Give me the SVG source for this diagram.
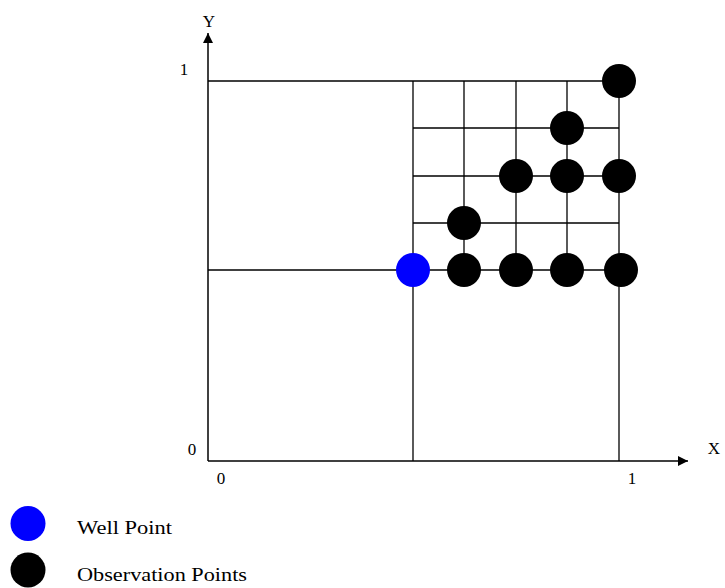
<svg xmlns="http://www.w3.org/2000/svg" width="725" height="588" viewBox="0 0 725 588">
<style>
.ln{stroke:#000;stroke-width:1.3;fill:none}
.ax{stroke:#000;stroke-width:1.5;fill:none}
.t{font-family:"Liberation Serif","Times New Roman",serif;font-size:17px;fill:#000}
.lg{font-family:"Liberation Serif","Times New Roman",serif;font-size:18px;fill:#000}
.obs{fill:#000}
.well{fill:#0000ff}
</style>
<defs>
<marker id="ah" viewBox="0 0 10 10" refX="10" refY="5" markerWidth="10" markerHeight="10" markerUnits="userSpaceOnUse" orient="auto">
<path d="M0,0 L10,5 L0,10 z" fill="#000"/>
</marker>
</defs>
<g id="connectors">
<line class="ax" x1="208" y1="461" x2="208" y2="33" marker-end="url(#ah)"/>
<line class="ax" x1="208" y1="461" x2="688" y2="461" marker-end="url(#ah)"/>
<line class="ln" x1="208" y1="81" x2="619" y2="81"/>
<line class="ln" x1="208" y1="270" x2="619" y2="270"/>
<line class="ln" x1="413" y1="128" x2="619" y2="128"/>
<line class="ln" x1="413" y1="176" x2="619" y2="176"/>
<line class="ln" x1="413" y1="223" x2="619" y2="223"/>
<line class="ln" x1="413" y1="81" x2="413" y2="461"/>
<line class="ln" x1="619" y1="81" x2="619" y2="461"/>
<line class="ln" x1="464" y1="81" x2="464" y2="270"/>
<line class="ln" x1="516" y1="81" x2="516" y2="270"/>
<line class="ln" x1="567" y1="81" x2="567" y2="270"/>
</g>
<g id="axis-labels">
<text class="t" x="209" y="27" text-anchor="middle">Y</text>
<text class="t" x="184" y="75" text-anchor="middle">1</text>
<text class="t" x="192" y="455" text-anchor="middle">0</text>
<text class="t" x="221" y="484" text-anchor="middle">0</text>
<text class="t" x="632" y="484" text-anchor="middle">1</text>
<text class="t" x="714" y="454" text-anchor="middle">X</text>
</g>
<g id="well-point"><circle class="well" cx="413" cy="270" r="17"/></g>
<g id="obs-1"><circle class="obs" cx="619" cy="81" r="17"/></g>
<g id="obs-2"><circle class="obs" cx="567" cy="128" r="17"/></g>
<g id="obs-3"><circle class="obs" cx="516" cy="176" r="17"/></g>
<g id="obs-4"><circle class="obs" cx="567" cy="176" r="17"/></g>
<g id="obs-5"><circle class="obs" cx="619" cy="176" r="17"/></g>
<g id="obs-6"><circle class="obs" cx="464" cy="223" r="17"/></g>
<g id="obs-7"><circle class="obs" cx="464" cy="270" r="17"/></g>
<g id="obs-8"><circle class="obs" cx="516" cy="270" r="17"/></g>
<g id="obs-9"><circle class="obs" cx="567" cy="270" r="17"/></g>
<g id="obs-10"><circle class="obs" cx="621" cy="270" r="17"/></g>
<g id="legend">
<circle class="well" cx="28" cy="523.5" r="17.5"/>
<text class="lg" x="77" y="534" textLength="95" lengthAdjust="spacingAndGlyphs">Well Point</text>
<circle class="obs" cx="28" cy="570" r="17.5"/>
<text class="lg" x="77" y="581" textLength="170" lengthAdjust="spacingAndGlyphs">Observation Points</text>
</g>
</svg>
